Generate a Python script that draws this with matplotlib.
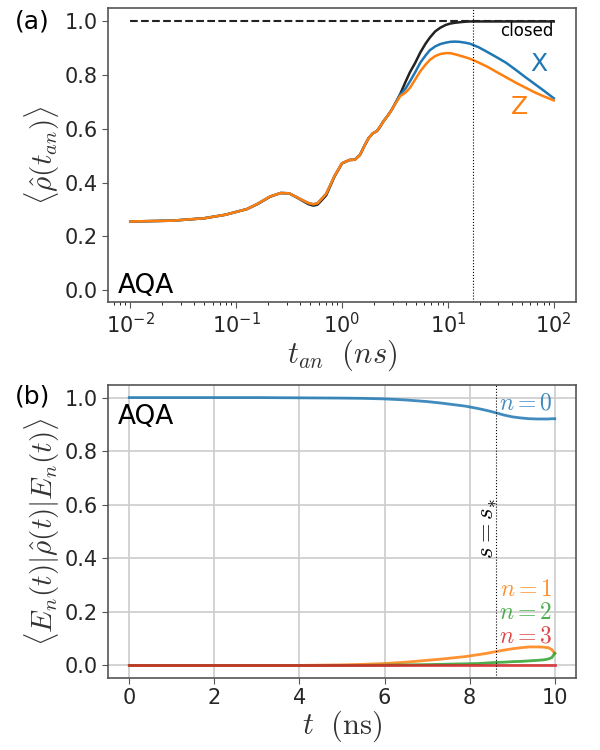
import matplotlib
matplotlib.use("Agg")
import matplotlib.pyplot as plt

plt.rcParams["mathtext.fontset"] = "cm"

# ---------------- data: panel (a) ----------------
t_an = [0.01, 0.025, 0.05, 0.079, 0.126, 0.158, 0.209, 0.263, 0.316, 0.38,
        0.479, 0.537, 0.589, 0.708, 0.851, 1.0, 1.175, 1.32, 1.48, 1.62, 1.78,
        1.95, 2.14, 2.29, 2.45, 2.69, 2.95, 3.24, 3.55, 3.98, 4.37,
        4.9, 5.5, 6.17, 6.76, 7.59, 8.51, 9.55, 10.5, 11.6, 12.9,
        14.5, 16.2, 19.5, 23.4, 28.8, 35.5, 44.7, 55.0, 66.1, 79.4, 100.0]
rho_closed = [0.255, 0.258, 0.267, 0.280, 0.301, 0.319, 0.347, 0.361, 0.360, 0.343,
              0.320, 0.314, 0.318, 0.352, 0.423, 0.471, 0.484, 0.485, 0.503, 0.535, 0.565,
              0.583, 0.592, 0.608, 0.627, 0.648, 0.671, 0.700, 0.730, 0.775, 0.810,
              0.845, 0.885, 0.918, 0.940, 0.963, 0.977, 0.987, 0.992, 0.995, 0.997,
              0.999, 1.0, 1.0, 1.0, 1.0, 1.0, 1.0, 1.0, 1.0, 1.0, 1.0]
rho_X = [0.255, 0.258, 0.267, 0.280, 0.301, 0.320, 0.348, 0.361, 0.360, 0.344,
         0.324, 0.319, 0.323, 0.358, 0.425, 0.472, 0.484, 0.485, 0.503, 0.535, 0.565,
         0.583, 0.592, 0.608, 0.627, 0.648, 0.671, 0.700, 0.727, 0.750, 0.776,
         0.810, 0.847, 0.874, 0.893, 0.907, 0.916, 0.921, 0.924, 0.925, 0.924,
         0.921, 0.917, 0.904, 0.887, 0.867, 0.846, 0.817, 0.790, 0.767, 0.744, 0.714]
rho_Z = [0.255, 0.258, 0.267, 0.280, 0.301, 0.320, 0.348, 0.361, 0.360, 0.344,
         0.324, 0.319, 0.323, 0.358, 0.425, 0.472, 0.484, 0.485, 0.503, 0.535, 0.565,
         0.583, 0.592, 0.608, 0.627, 0.648, 0.671, 0.698, 0.722, 0.735, 0.752,
         0.783, 0.815, 0.840, 0.857, 0.871, 0.879, 0.882, 0.882, 0.878, 0.873,
         0.867, 0.861, 0.847, 0.832, 0.812, 0.792, 0.770, 0.752, 0.736, 0.722, 0.706]
t_star_a = 17.3

# ---------------- data: panel (b) ----------------
t_b = [0, 1, 2, 3, 4, 5, 5.5, 6, 6.5, 7, 7.3, 7.6, 7.9, 8.2, 8.4, 8.6, 8.8, 9.0,
       9.2, 9.4, 9.6, 9.75, 9.85, 9.93, 10]
pop_n0 = [1.0, 1.0, 1.0, 1.0, 0.999, 0.998, 0.997, 0.995, 0.991, 0.985, 0.980, 0.974,
          0.968, 0.959, 0.952, 0.944, 0.935, 0.928, 0.924, 0.921, 0.920, 0.920, 0.920,
          0.921, 0.921]
pop_n1 = [0, 0, 0, 0, 0, 0.002, 0.004, 0.007, 0.012, 0.019, 0.023, 0.028, 0.033, 0.040,
          0.045, 0.051, 0.057, 0.062, 0.066, 0.069, 0.069, 0.068, 0.066, 0.059, 0.045]
pop_n2 = [0, 0, 0, 0, 0, 0, 0, 0.001, 0.002, 0.003, 0.004, 0.005, 0.006, 0.007, 0.009,
          0.011, 0.012, 0.014, 0.015, 0.017, 0.019, 0.021, 0.024, 0.029, 0.045]
pop_n3 = [0] * 25
t_star_b = 8.61

labels_b = ["$n=0$", "$n=1$", "$n=2$", "$n=3$"]
label_y_b = [0.98, 0.285, 0.20, 0.11]

C_BLUE, C_ORANGE, C_GREEN, C_RED = "#1f77b4", "#ff7f0e", "#2ca02c", "#d62728"
TXT = "#262626"

fig = plt.figure(figsize=(6, 7.5), dpi=100)
ax1 = fig.add_axes([0.18, 0.5973, 0.78, 0.392])
ax2 = fig.add_axes([0.18, 0.096, 0.78, 0.3907])

for ax in (ax1, ax2):
    for s in ax.spines.values():
        s.set_color("#555555")
        s.set_linewidth(1.2)
    ax.tick_params(labelsize=15, labelcolor=TXT, color="#555555", length=4)

# ---- panel (a) ----
ax1.plot([t_an[0], t_an[-1]], [1.0, 1.0], "--", color="#222222", lw=1.5)
ax1.plot(t_an, rho_closed, color="#222222", lw=1.8)
ax1.plot(t_an, rho_X, color=C_BLUE, lw=1.8)
ax1.plot(t_an, rho_Z, color=C_ORANGE, lw=1.8)
ax1.axvline(t_star_a, color="black", lw=0.8, ls=":")
ax1.set_xscale("log")
ax1.set_xlim(10 ** -2.21, 10 ** 2.21)
ax1.set_ylim(-0.045, 1.05)
ax1.set_yticks([0.0, 0.2, 0.4, 0.6, 0.8, 1.0])
ax1.text(99, 0.965, "closed", ha="right", va="center", fontsize=12, color="black")
ax1.text(72, 0.842, "X", ha="center", va="center", fontsize=18, color=C_BLUE)
ax1.text(47, 0.68, "Z", ha="center", va="center", fontsize=18, color=C_ORANGE)
ax1.text(0.02, 0.01, "AQA", transform=ax1.transAxes, ha="left", va="bottom",
         fontsize=19, color="black")
ax1.set_xlabel(r"$t_{an}\ \ (ns)$", fontsize=22, color="#333333", labelpad=0)
ax1.set_ylabel(r"$\langle\hat{\rho}(t_{an})\rangle$", fontsize=21, color="#333333",
               labelpad=2)

# ---- panel (b) ----
ax2.grid(True, color="#cccccc", lw=1.2)
ax2.set_axisbelow(True)
for y, c in zip([pop_n0, pop_n1, pop_n2, pop_n3], [C_BLUE, C_ORANGE, C_GREEN, C_RED]):
    ax2.plot(t_b, y, color=c, lw=2, alpha=0.85)
ax2.axvline(t_star_b, color="black", lw=0.8, ls=":")
ax2.set_xlim(-0.5, 10.5)
ax2.set_ylim(-0.047, 1.047)
ax2.set_xticks([0, 2, 4, 6, 8, 10])
ax2.set_yticks([0.0, 0.2, 0.4, 0.6, 0.8, 1.0])
for lab, ly, c in zip(labels_b, label_y_b, [C_BLUE, C_ORANGE, C_GREEN, C_RED]):
    ax2.text(9.95, ly, lab, ha="right", va="center", fontsize=17, color=c, alpha=0.85)
ax2.text(8.4, 0.51, r"$s=s_{*}$", rotation=90, ha="center", va="center",
         fontsize=18, color="black")
ax2.text(0.02, 0.89, "AQA", transform=ax2.transAxes, ha="left", va="center",
         fontsize=19, color="black")
ax2.set_xlabel(r"$t\ \ (\mathrm{ns})$", fontsize=22, color="#333333", labelpad=0)
ax2.set_ylabel(r"$\langle E_n(t)|\hat{\rho}(t)|E_n(t)\rangle$", fontsize=21,
               color="#333333", labelpad=2)

fig.text(0.025, 0.988, "(a)", fontsize=18, color="black", va="top", ha="left")
fig.text(0.025, 0.487, "(b)", fontsize=18, color="black", va="top", ha="left")

fig.savefig("out.png", dpi=100)
